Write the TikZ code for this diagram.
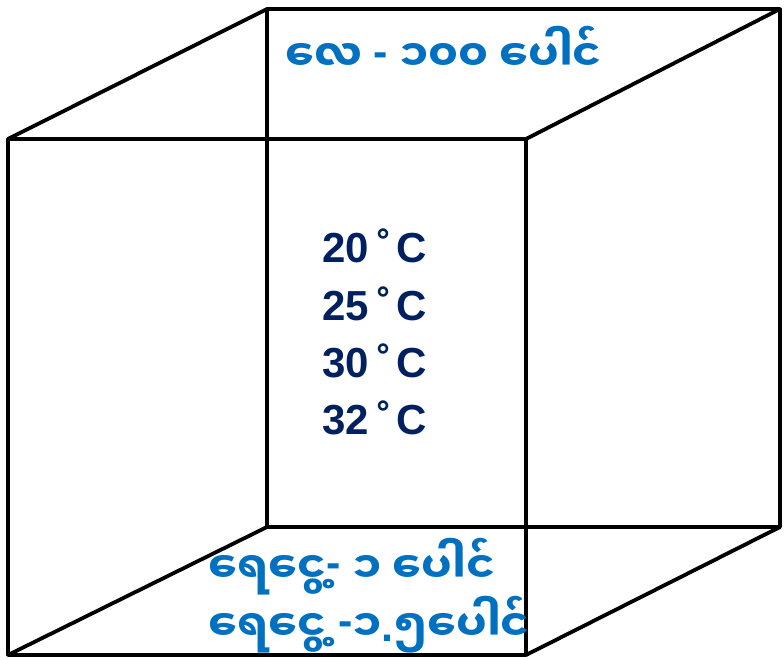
\documentclass[tikz,border=0pt]{standalone}
\usepackage{fontspec}
\setmainfont{Liberation Sans}
\newfontfamily\mm[Script=Myanmar]{Noto Sans Myanmar UI}
\newfontfamily\latinf{Liberation Sans}
\newcommand\lt[1]{{\latinf\bfseries #1}}
\newcommand\hy{\raisebox{0.12em}{\lt{-}}}
\definecolor{mmblue}{RGB}{0,112,192}
\definecolor{navy}{RGB}{0,32,96}
\begin{document}
\begin{tikzpicture}[x=1pt,y=-1pt,
  edge/.style={line width=3.8pt,black,line cap=round,line join=round},
  mmlabel/.style={anchor=base west,inner sep=0pt,text=mmblue,font=\mm\bfseries\fontsize{43}{50}\selectfont},
  temp/.style={anchor=base west,inner sep=0pt,text=navy,font=\bfseries\fontsize{42}{48}\selectfont}]
\useasboundingbox (0,0) rectangle (784,660);
% front face corners
\coordinate (ftl) at (8,139);
\coordinate (ftr) at (526,139);
\coordinate (fbl) at (8,655);
\coordinate (fbr) at (526,655);
% back face corners
\coordinate (btl) at (267,9);
\coordinate (btr) at (780,9);
\coordinate (bbl) at (267,527);
\coordinate (bbr) at (780,527);
% back face
\draw[edge] (btl) -- (btr) -- (bbr) -- (bbl) -- cycle;
% front face
\draw[edge] (ftl) -- (ftr) -- (fbr) -- (fbl) -- cycle;
% connecting edges
\draw[edge] (ftl) -- (btl);
\draw[edge] (ftr) -- (btr);
\draw[edge] (fbl) -- (bbl);
\draw[edge] (fbr) -- (bbr);
% labels
\node[mmlabel] (air) at (285,72) {လေ \hy{} ၁၀၀ ပေါင်};
\node[mmlabel] (v1) at (208,583) {ရေငွေ့\hy{} ၁ ပေါင်};
\node[mmlabel] (v2) at (208,641) {ရေငွေ့ \hy{}၁\lt{.}၅ပေါင်};
\node[temp] (t1) at (322,262) {20\kern9pt˚\kern4.5pt C};
\node[temp] (t2) at (322,320) {25\kern9pt˚\kern4.5pt C};
\node[temp] (t3) at (322,377) {30\kern9pt˚\kern4.5pt C};
\node[temp] (t4) at (322,434) {32\kern9pt˚\kern4.5pt C};
\end{tikzpicture}
\end{document}
